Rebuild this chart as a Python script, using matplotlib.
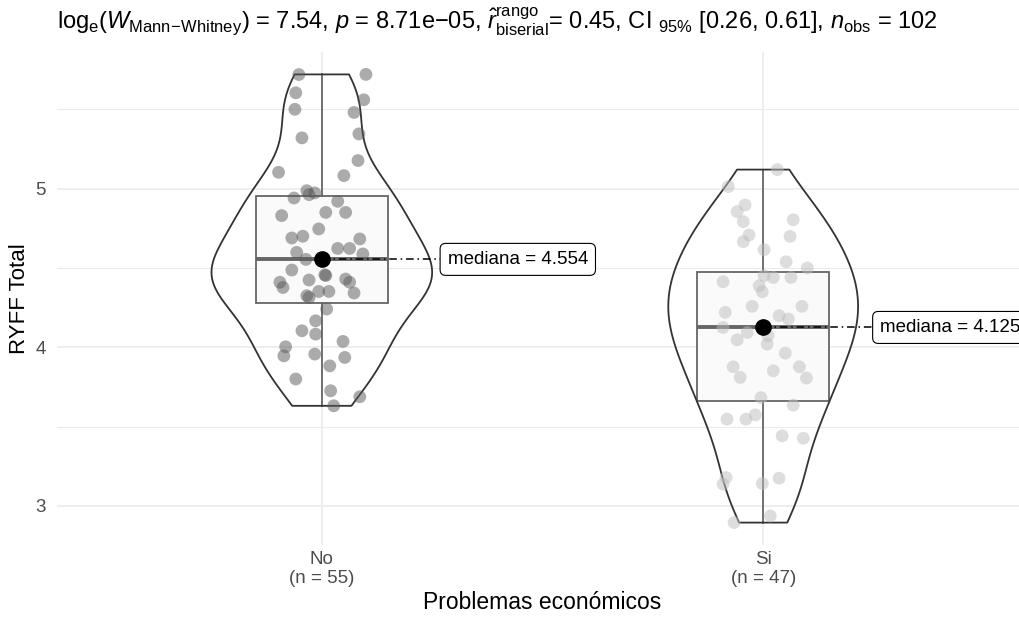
import numpy as np
import matplotlib
matplotlib.use("Agg")
import matplotlib.pyplot as plt

plt.rcParams['font.family'] = ['Liberation Sans', 'DejaVu Sans']
plt.rcParams['mathtext.fontset'] = 'custom'
plt.rcParams['mathtext.rm'] = 'Liberation Sans'
plt.rcParams['mathtext.it'] = 'Liberation Sans:italic'
plt.rcParams['mathtext.bf'] = 'Liberation Sans:bold'

# data
groups = ['No', 'Si']
group_n = [55, 47]
medians = [4.554, 4.125]

ryff_no = [5.719, 5.72, 5.604, 5.56, 5.50, 5.48, 5.345, 5.32, 5.177, 5.103,
           5.082, 4.987, 4.973, 4.962, 4.941, 4.92, 4.85, 4.85, 4.83, 4.746,
           4.689, 4.70, 4.683, 4.623, 4.623, 4.598, 4.588, 4.554, 4.487, 4.457,
           4.452, 4.41, 4.377, 4.424, 4.43, 4.41, 4.352, 4.352, 4.325, 4.314,
           4.342, 4.241, 4.167, 4.104, 4.083, 4.003, 3.946, 4.037, 3.936, 3.957,
           3.883, 3.80, 3.726, 3.688, 3.631]
jitter_no = [-0.052, 0.10, -0.059, 0.095, -0.061, 0.073, 0.084, -0.045, 0.082, -0.098,
             0.05, -0.034, -0.016, -0.029, -0.063, 0.036, 0.009, 0.054, -0.091, -0.007,
             -0.068, -0.043, 0.086, 0.036, 0.063, -0.057, 0.093, -0.036, -0.068, 0.007,
             0.009, -0.095, -0.088, -0.029, 0.054, 0.063, -0.007, 0.016, -0.034, -0.029,
             0.073, 0.011, -0.014, -0.045, -0.014, -0.082, -0.086, 0.048, 0.052, -0.016,
             0.018, -0.059, 0.02, 0.086, 0.027]

ryff_si = [5.12, 5.013, 4.897, 4.855, 4.792, 4.804, 4.708, 4.699, 4.666, 4.615,
           4.539, 4.50, 4.413, 4.451, 4.44, 4.44, 4.388, 4.35, 4.258, 4.258,
           4.22, 4.199, 4.178, 4.125, 4.093, 4.047, 4.073, 4.02, 3.963, 3.877,
           3.81, 3.852, 3.877, 3.806, 3.683, 3.635, 3.574, 3.547, 3.547, 3.442,
           3.427, 3.179, 3.137, 3.141, 3.175, 2.937, 2.895]
jitter_si = [0.032, -0.079, -0.041, -0.059, -0.045, 0.068, -0.032, 0.061, -0.045, 0.002,
             0.052, 0.10, -0.091, 0.002, 0.023, 0.063, -0.009, -0.002, -0.025, 0.088,
             -0.086, 0.036, 0.057, -0.091, -0.036, -0.059, 0.011, 0.009, 0.05, -0.068,
             -0.052, 0.023, 0.082, 0.098, -0.005, 0.068, -0.018, -0.039, -0.082, 0.043,
             0.091, -0.084, -0.091, -0.002, 0.036, 0.016, -0.066]

values = [np.array(ryff_no), np.array(ryff_si)]
jitters = [np.array(jitter_no), np.array(jitter_si)]
point_colors = ['#595959', '#bdbdbd']
label_offsets = [0.285, 0.265]

title = (r'$\log_{\mathrm{e}}\!(W_{\mathrm{Mann\!-\!Whitney}})$ = 7.54, $p$ = 8.71e$-$05, '
         r'$\hat{r}_{\mathrm{biserial}}^{\mathrm{rango}}$= 0.45, CI $_{95\%}$ [0.26, 0.61], '
         r'$n_{\mathrm{obs}}$ = 102')


def nrd0(kde):
    # R's default bandwidth (bw.nrd0), as a factor of the sd
    d = kde.dataset.ravel()
    sd = np.std(d, ddof=1)
    iqr = np.subtract(*np.percentile(d, [75, 25]))
    bw = 0.9 * min(sd, iqr / 1.34) * len(d) ** -0.2
    return bw / sd


fig = plt.figure(figsize=(10.2, 6.19), dpi=100)
ax = fig.add_axes([57 / 1020, 1 - 545 / 619, 971 / 1020, 493 / 619])

pos = [1, 2]

# violins
vp = ax.violinplot(values, positions=pos, widths=[0.5, 0.43], showextrema=False,
                   bw_method=nrd0)
for body in vp['bodies']:
    body.set_facecolor('none')
    body.set_edgecolor('#333333')
    body.set_linewidth(1.3)
    body.set_alpha(1)
    body.set_zorder(2)

# boxes
bp = ax.boxplot(values, positions=pos, widths=0.3, patch_artist=True,
                showfliers=False, showcaps=False, zorder=1,
                boxprops=dict(facecolor='#fafafa', edgecolor='#666666', linewidth=1.3),
                whiskerprops=dict(color='#666666', linewidth=1.3),
                medianprops=dict(color='#666666', linewidth=2.8))

# jittered points
for p, v, j, c in zip(pos, values, jitters, point_colors):
    ax.scatter(p + j, v, s=85, color=c, alpha=0.5, edgecolors='none', zorder=3)

# median points and labels
for p, m, off in zip(pos, medians, label_offsets):
    ax.plot([p, p + off], [m, m], color='black', linewidth=1.1, zorder=4,
            dashes=(5, 2.5, 1, 2.5))
    ax.plot(p, m, 'o', color='black', markersize=11, zorder=5)
    ax.text(p + off, m, f'mediana = {m:.3f}', ha='left', va='center', fontsize=13.5,
            color='black', zorder=6, clip_on=False,
            bbox=dict(boxstyle='round,pad=0.4,rounding_size=0.3', facecolor='white',
                      edgecolor='black', linewidth=0.8))

allv = np.concatenate(values)
rng = allv.max() - allv.min()
ax.set_ylim(allv.min() - 0.05 * rng, allv.max() + 0.05 * rng)
ax.set_xlim(0.4, 2.6)

ax.set_xticks(pos)
ax.set_xticklabels([f'{g}\n(n = {n})' for g, n in zip(groups, group_n)])
ax.set_yticks([3, 4, 5])
ax.set_yticks([3.5, 4.5, 5.5], minor=True)
ax.tick_params(axis='both', which='both', length=0, labelsize=13.5, labelcolor='#4d4d4d')
ax.tick_params(axis='y', pad=8)
ax.tick_params(axis='x', pad=4)
ax.grid(True, which='major', color='#ebebeb', linewidth=1.2, zorder=0)
ax.grid(True, which='minor', axis='y', color='#ebebeb', linewidth=0.8, zorder=0)
ax.set_axisbelow(True)
for s in ax.spines.values():
    s.set_visible(False)

ax.set_xlabel('Problemas económicos', fontsize=16.5, labelpad=3)
ax.set_ylabel('RYFF Total', fontsize=16, labelpad=4)

fig.text(57 / 1020, 1 - 29 / 619, title, fontsize=17, ha='left', va='baseline')

fig.savefig('out.png', dpi=100)
